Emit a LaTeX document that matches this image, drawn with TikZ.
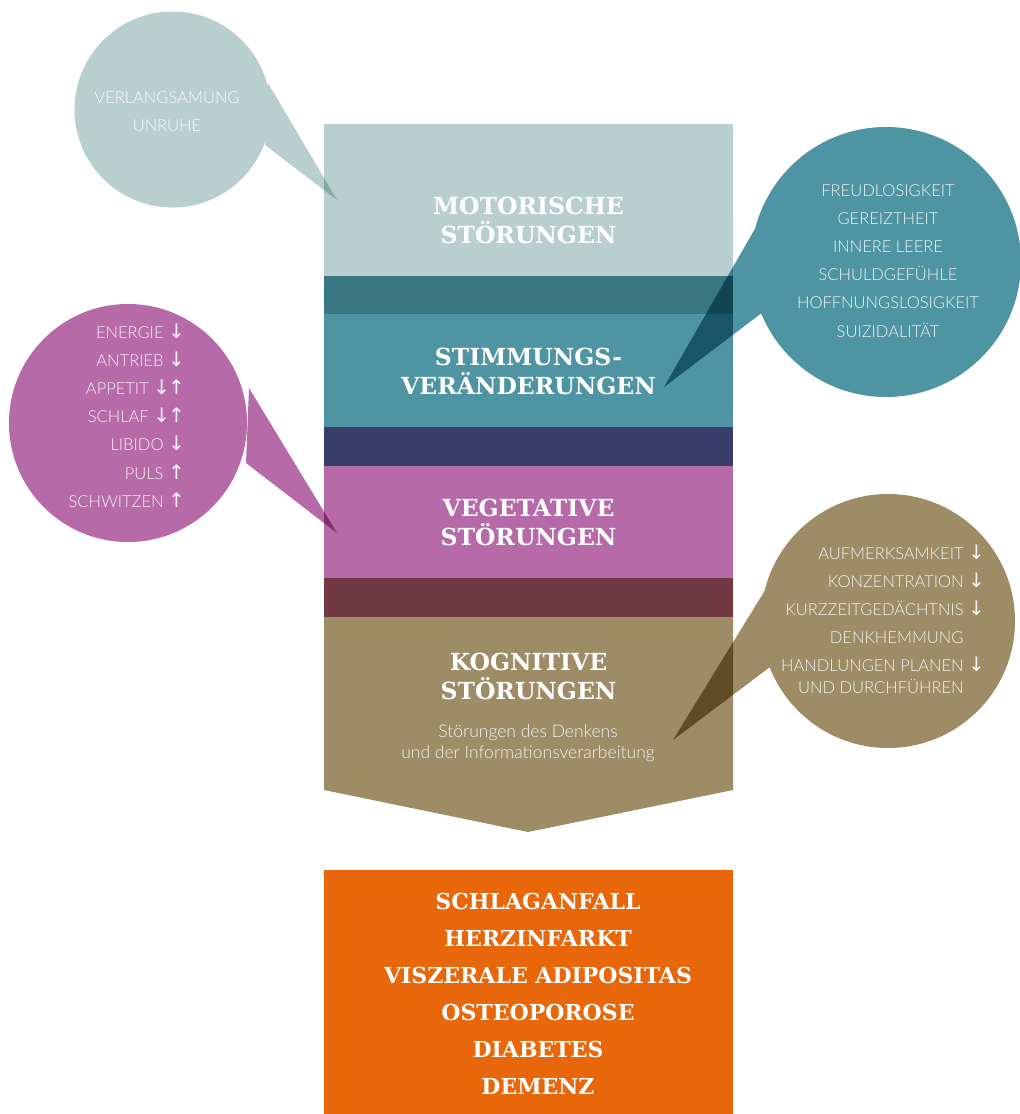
\documentclass[tikz,border=0pt]{standalone}
\usepackage{fontspec}
\setmainfont{Lato}[UprightFont=* Light]
\newfontfamily\slabfont{DejaVu Serif}
\newfontfamily\arrowfont{DejaVu Sans}
\usepackage{xcolor}

\definecolor{motorcol}{HTML}{B9CFCF}
\definecolor{moodcol}{HTML}{4F94A2}
\definecolor{vegcol}{HTML}{B76AA8}
\definecolor{cogcol}{HTML}{9E8C66}
\definecolor{riskcol}{HTML}{E8670A}

\newcommand\arrdown{~{\arrowfont\fontsize{20}{20}\selectfont ↓}}
\newcommand\arrup{~{\arrowfont\fontsize{20}{20}\selectfont ↑}}
\newcommand\arrboth{~{\arrowfont\fontsize{20}{20}\selectfont ↓\kern-2pt↑}}
\newcommand\arrnone{\phantom{\arrdown}}

\begin{document}
\begin{tikzpicture}[x=1pt,y=-1pt,
        layer/.style={blend mode=multiply},
        head/.style={text=white,align=center,inner sep=0pt,font=\slabfont\bfseries\fontsize{23.5}{29}\selectfont},
        item/.style={text=white,text opacity=0.92,inner sep=0pt,font=\fontsize{16.5}{20}\selectfont}]
        \useasboundingbox (0,0) rectangle (1020,1114);
        % column, overlapping layers
        \fill [motorcol,layer] (324,124) rectangle (733,314);
        \fill [moodcol,layer] (324,276) rectangle (733,466);
        \fill [vegcol,layer] (324,427) rectangle (733,617);
        \fill [cogcol,layer] (324,578) -- (733,578) -- (733,790) -- (528,832) -- (324,790) -- cycle;
        \fill [riskcol] (324,870) rectangle (733,1114);
        % bubbles
        \fill [motorcol,layer] (172.5,109.5) circle[radius=98] (268,83) -- (337,200) -- (265,145) -- cycle;
        \fill [moodcol,layer] (886,262) circle[radius=135] (763,312) -- (664,387) -- (756,227) -- cycle;
        \fill [vegcol,layer] (128,423) circle[radius=119] (249,388) -- (337,533) -- (246,463) -- cycle;
        \fill [cogcol,layer] (888,621) circle[radius=127] (770,667) -- (673,740) -- (767,587) -- cycle;
        % headings
        \node [head] (motor) at (528.5,220.5) {MOTORISCHE\\STÖRUNGEN};
        \node [head] (mood) at (528.5,371.5) {STIMMUNGS-\\VERÄNDERUNGEN};
        \node [head] (veg) at (528.5,522.5) {VEGETATIVE\\STÖRUNGEN};
        \node [head] (cog) at (528.5,676.5) {KOGNITIVE\\STÖRUNGEN};
        \node [item,align=center,font=\fontsize{17.5}{21}\selectfont] (cogsub) at (528,743.5) {Störungen des Denkens\\und der Informationsverarbeitung};
        \node [head,font=\slabfont\bfseries\fontsize{22}{37}\selectfont] (risks) at (538,993.5) {SCHLAGANFALL\\HERZINFARKT\\VISZERALE ADIPOSITAS\\OSTEOPOROSE\\DIABETES\\DEMENZ};
        % bubble texts
        \node [item,anchor=base] (motor-0) at (167,103) {VERLANGSAMUNG};
        \node [item,anchor=base] (motor-1) at (167,131) {UNRUHE};
        \foreach \t [count=\i from 0] in {FREUDLOSIGKEIT,GEREIZTHEIT,INNERE LEERE,SCHULDGEFÜHLE,HOFFNUNGSLOSIGKEIT,SUIZIDALITÄT} {
            \node [item,anchor=base] (mood-\i) at (888,196+28.2*\i) {\t};
        }
        \foreach \t [count=\i from 0] in {ENERGIE\arrdown,ANTRIEB\arrdown,APPETIT\arrboth,SCHLAF\arrboth,LIBIDO\arrdown,PULS\arrup,SCHWITZEN\arrup} {
            \node [item,anchor=base east] (veg-\i) at (185,338+28.2*\i) {\t};
        }
        \foreach \t/\y [count=\i from 0] in {AUFMERKSAMKEIT\arrdown/559,KONZENTRATION\arrdown/587,KURZZEITGEDÄCHTNIS\arrdown/615,DENKHEMMUNG\arrnone/643,HANDLUNGEN PLANEN\arrdown/671,UND DURCHFÜHREN\arrnone/693} {
            \node [item,anchor=base east] (cog-\i) at (985,\y) {\t};
        }
    \end{tikzpicture}
\end{document}
